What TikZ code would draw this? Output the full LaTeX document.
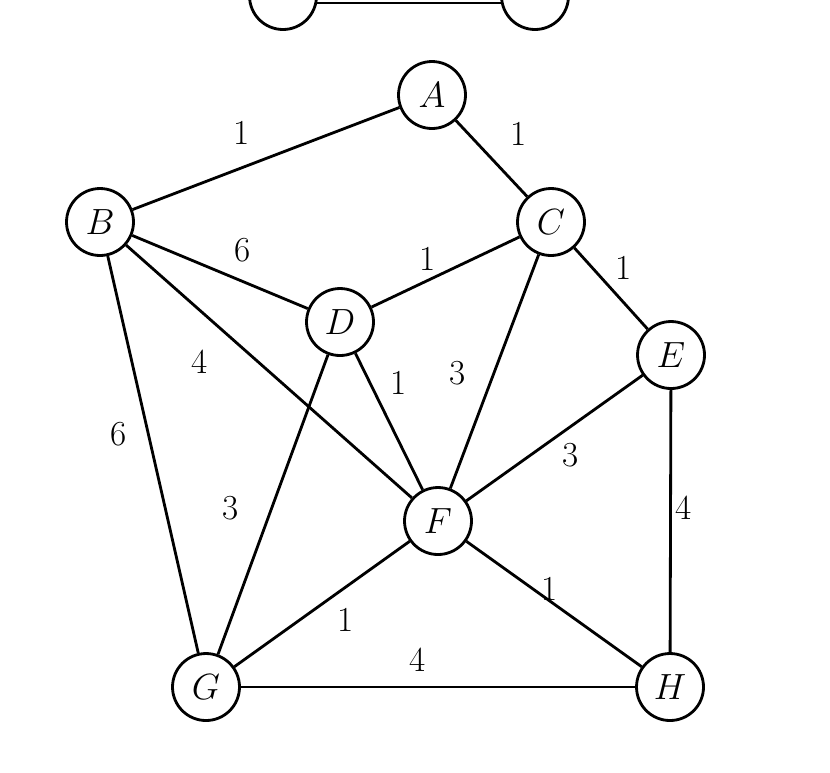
\documentclass[tikz,border=0pt]{standalone}
\begin{document}
\begin{tikzpicture}[x=0.02cm,y=-0.02cm,
  vert/.style={circle,draw,line width=1.6pt,minimum size=1.34cm,inner sep=0pt,fill=white,font=\fontsize{20}{24}\selectfont},
  wlab/.style={font=\fontsize{20}{24}\selectfont,inner sep=0pt},
  edgeln/.style={line width=1.6pt}]
\useasboundingbox (0,0) rectangle (830,772);
\clip (0,0) rectangle (830,772);
% partially visible graph at top
\node[vert] (t1) at (283,-4) {};
\node[vert] (t2) at (535,-4) {};
\draw[line width=1pt] (t1.-12) -- (t2.192);
% main graph
\node[vert] (A) at (432,95) {$A$};
\node[vert] (B) at (100,222) {$B$};
\node[vert] (C) at (551,222) {$C$};
\node[vert] (D) at (340,322) {$D$};
\node[vert] (E) at (671,355) {$E$};
\node[vert] (F) at (438,521) {$F$};
\node[vert] (G) at (206,687) {$G$};
\node[vert] (H) at (670,687) {$H$};
\begin{scope}[edgeln]
\draw (A) -- (B);
\draw (A) -- (C);
\draw (B) -- (D);
\draw (D) -- (C);
\draw (C) -- (E);
\draw (B) -- (F);
\draw (D) -- (F);
\draw (C) -- (F);
\draw (E) -- (F);
\draw (B) -- (G);
\draw (D) -- (G);
\draw (E) -- (H);
\draw (F) -- (G);
\draw (F) -- (H);
\draw (G) -- (H);
\end{scope}
\node[wlab] (lAB) at (242,133) {1};
\node[wlab] (lAC) at (519,134) {1};
\node[wlab] (lBD) at (243,250) {6};
\node[wlab] (lDC) at (428,259) {1};
\node[wlab] (lCE) at (624,268) {1};
\node[wlab] (lBF) at (200,362) {4};
\node[wlab] (lDF) at (399,383) {1};
\node[wlab] (lCF) at (458,373) {3};
\node[wlab] (lEF) at (571,455) {3};
\node[wlab] (lBG) at (119,434) {6};
\node[wlab] (lDG) at (231,508) {3};
\node[wlab] (lEH) at (684,508) {4};
\node[wlab] (lFG) at (346,620) {1};
\node[wlab] (lFH) at (550,589) {1};
\node[wlab] (lGH) at (418,660) {4};
\end{tikzpicture}
\end{document}
